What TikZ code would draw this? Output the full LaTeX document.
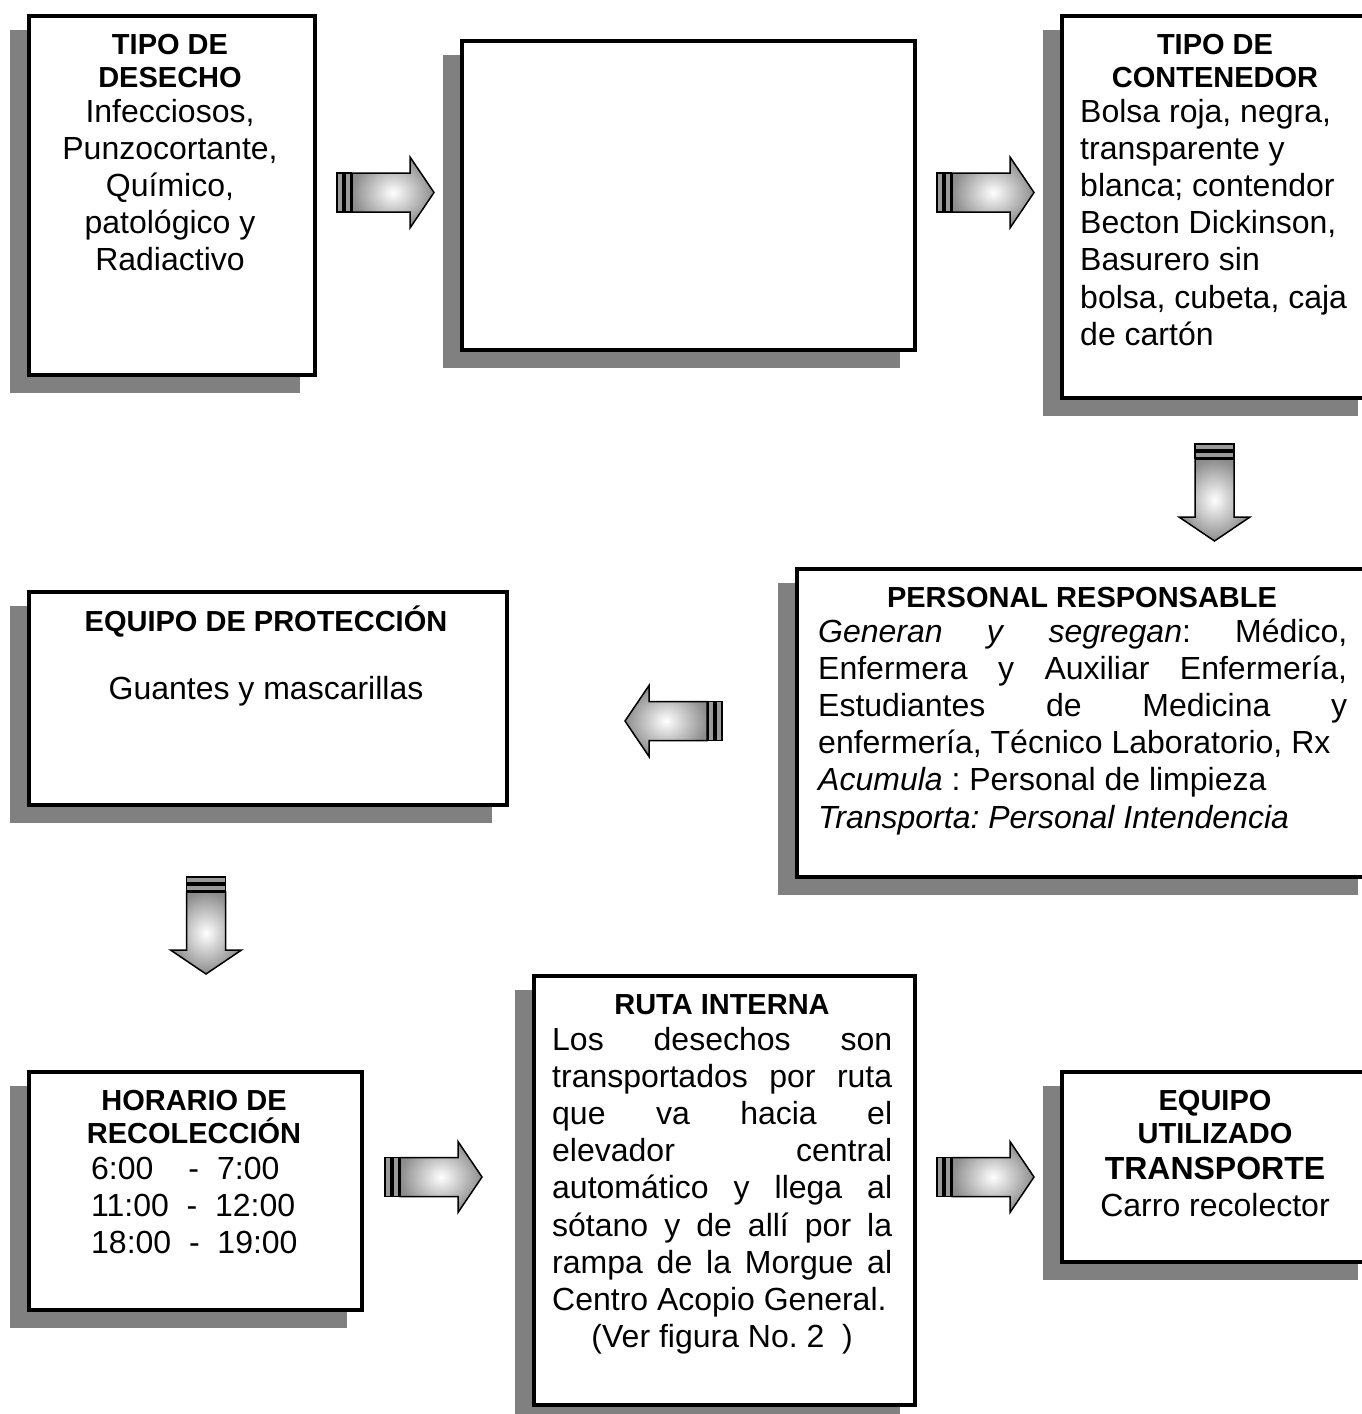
\documentclass[tikz,border=0pt]{standalone}
\usepackage{fontspec}
\setmainfont{Liberation Sans}
\usetikzlibrary{backgrounds}
\definecolor{shadowgray}{HTML}{808080}
\definecolor{barfill}{HTML}{9A9A9A}
% normal word spaces (the node alignment sets rigid ones)
\newcommand\plainspaces{\spaceskip=0pt\xspaceskip=0pt\frenchspacing}
% rigid word spaces of the font's own width, for centred lines
\newcommand\rigidspaces{\spaceskip=0.278em\xspaceskip=0.278em\relax}
% a line stretched to the full text width
\newcommand\fullline[2]{{\plainspaces\makebox[#1][s]{#2}}}

\begin{document}
\begin{tikzpicture}[x=1pt,y=-1pt,
  panel/.style={draw=black, line width=4pt, fill=white, inner sep=0pt, anchor=north west},
  ttl/.style={font=\fontsize{29}{33}\selectfont\bfseries, inner sep=0pt, align=center, text width=#1},
  ttl/.default=300pt,
  bdy/.style={font=\fontsize{32}{37.2}\selectfont, inner sep=0pt, text width=#1},
  bdy/.default=300pt,
  blockarrow/.pic={
    \filldraw[fill=barfill, draw=black, line width=1.5pt] (0,-19.5) rectangle (6,19.5);
    \filldraw[fill=barfill, draw=black, line width=1.5pt] (8,-19.5) rectangle (14,19.5);
    \shadedraw[draw=black, line width=1.5pt, inner color=white, outer color=black!45]
      (15,-19.5) -- (73,-19.5) -- (73,-35.5) -- (97,0) -- (73,35.5) -- (73,19.5) -- (15,19.5) -- cycle;
  }
]
\useasboundingbox (0,0) rectangle (1362,1414);
\clip (0,0) rectangle (1362,1414);

% panels
\node[panel, minimum width=286pt, minimum height=359pt] (desecho) at (27,14) {};
\node[panel, minimum width=453pt, minimum height=309pt] (vacio) at (460,39) {};
\node[panel, minimum width=311pt, minimum height=382pt] (contenedor) at (1060,14) {};
\node[panel, minimum width=576pt, minimum height=308pt] (personal) at (795,567) {};
\node[panel, minimum width=478pt, minimum height=213pt] (proteccion) at (27,590) {};
\node[panel, minimum width=333pt, minimum height=238pt] (horario) at (27,1070) {};
\node[panel, minimum width=381pt, minimum height=429pt] (ruta) at (532,974) {};
\node[panel, minimum width=311pt, minimum height=190pt] (equipo) at (1060,1070) {};

% drop shadows behind the panels
\begin{scope}[on background layer]
  \foreach \p in {desecho,vacio,contenedor,personal,proteccion,horario,ruta,equipo}
    \fill[shadowgray] ([xshift=-17pt,yshift=-16pt]\p.north west) rectangle ([xshift=-17pt,yshift=-16pt]\p.south east);
\end{scope}

% texts
\node[ttl, anchor=base] (desecho-t) at (170,54) {\rigidspaces TIPO DE\\DESECHO};
\node[bdy, align=center, anchor=base] (desecho-b) at (170,122)
  {\rigidspaces Infecciosos,\\Punzocortante,\\Químico,\\patológico y\\Radiactivo};

\node[ttl, anchor=base] (contenedor-t) at (1215,54) {\rigidspaces TIPO DE\\CONTENEDOR};
\node[bdy=290pt, align=left, anchor=base west] (contenedor-b) at (1080,122)
  {\plainspaces Bolsa roja, negra,\\transparente y\\blanca; contendor\\Becton Dickinson,\\Basurero sin\\bolsa, cubeta, caja\\de cartón};

\node[ttl=540pt, anchor=base] (personal-t) at (1082,607) {\rigidspaces PERSONAL RESPONSABLE};
\node[bdy=529pt, align=left, anchor=base west] (personal-b) at (818,642)
  {\plainspaces
   \fullline{529pt}{\textit{Generan} \textit{y} \textit{segregan}: Médico,}\\
   \fullline{529pt}{Enfermera y Auxiliar Enfermería,}\\
   \fullline{529pt}{Estudiantes de Medicina y}\\
   enfermería, Técnico Laboratorio, Rx\\
   \textit{Acumula} : Personal de limpieza\\
   \textit{Transporta: Personal Intendencia}};

\node[ttl=460pt, anchor=base] (proteccion-t) at (266,631) {\rigidspaces EQUIPO DE PROTECCIÓN};
\node[bdy=460pt, align=center, anchor=base] (proteccion-b) at (266,699) {\rigidspaces Guantes y mascarillas};

\node[ttl, anchor=base] (horario-t) at (194,1110) {\rigidspaces HORARIO DE\\RECOLECCIÓN};
\node[bdy=260pt, align=left, anchor=base west] (horario-b) at (91,1179)
  {\plainspaces 6:00\hspace{35pt}-\hspace{18pt}7:00\\11:00\ \ -\ \ 12:00\\18:00\ \ -\ \ 19:00};

\node[ttl=360pt, anchor=base] (ruta-t) at (722,1014) {\rigidspaces RUTA INTERNA};
\node[bdy=340pt, align=left, anchor=base west] (ruta-b) at (552,1050)
  {\plainspaces
   \fullline{340pt}{Los desechos son}\\
   \fullline{340pt}{transportados por ruta}\\
   \fullline{340pt}{que va hacia el}\\
   \fullline{340pt}{elevador central}\\
   \fullline{340pt}{automático y llega al}\\
   \fullline{340pt}{sótano y de allí por la}\\
   \fullline{340pt}{rampa de la Morgue al}\\
   Centro Acopio General.\\
   \makebox[340pt][c]{(Ver figura No. 2\ \ )}};

\node[ttl, anchor=base] (equipo-t) at (1215,1110) {\rigidspaces EQUIPO\\UTILIZADO};
\node[bdy, align=center, anchor=base] (equipo-b) at (1215,1179)
  {\rigidspaces\textbf{TRANSPORTE}\\Carro recolector};

% block arrows between the panels
\pic at (337,192.5) {blockarrow};
\pic at (937,192.5) {blockarrow};
\pic[rotate=-90] at (1214.5,444) {blockarrow};
\pic[rotate=180] at (722,721) {blockarrow};
\pic[rotate=-90] at (206,877) {blockarrow};
\pic at (385,1177) {blockarrow};
\pic at (937,1177) {blockarrow};
\end{tikzpicture}
\end{document}
